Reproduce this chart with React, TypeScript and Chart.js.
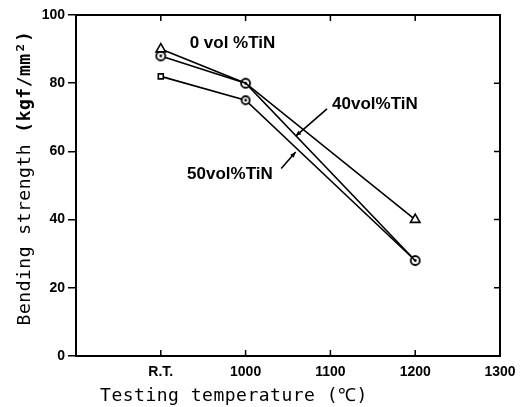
import React, { useEffect, useRef } from "react";
import { Chart, registerables } from "chart.js";

Chart.register(...registerables);

// Test temperatures; room temperature sits one step left of 1000 on the axis.
const temperatures = [900, 1000, 1200];
const tickLabels: Record<number, string> = {
  900: "R.T.",
  1000: "1000",
  1100: "1100",
  1200: "1200",
  1300: "1300",
};

// Bending strength (kgf/mm²) for each TiN content
const tin0 = [90, 80, 40];
const tin40 = [88, 80, 28];
const tin50 = [82, 75, 28];

const labelTexts = ["0 vol %TiN", "40vol%TiN", "50vol%TiN"];

const FONT_LABEL = "bold 17px 'Liberation Sans', Arial, sans-serif";
const FONT_TITLE = "18px 'DejaVu Sans Mono', monospace";
const FONT_TITLE_BOLD = "bold 18px 'DejaVu Sans Mono', monospace";

function ringMarker(r: number): HTMLCanvasElement {
  const size = Math.ceil(r * 2 + 4);
  const c = document.createElement("canvas");
  c.width = size;
  c.height = size;
  const g = c.getContext("2d")!;
  const m = size / 2;
  g.beginPath();
  g.arc(m, m, r, 0, Math.PI * 2);
  g.fillStyle = "#fff";
  g.fill();
  g.lineWidth = 1.8;
  g.strokeStyle = "#000";
  g.stroke();
  g.beginPath();
  g.arc(m, m, 1.4, 0, Math.PI * 2);
  g.fillStyle = "#000";
  g.fill();
  return c;
}

const framePlugin = {
  id: "frame",
  afterDraw(chart: any) {
    const { ctx, chartArea: a, scales } = chart;
    const xs = scales.x;
    const ys = scales.y;
    ctx.save();
    ctx.strokeStyle = "#000";
    ctx.lineWidth = 2;
    ctx.strokeRect(a.left, a.top, a.right - a.left, a.bottom - a.top);

    // inward ticks on bottom, top and right edges
    ctx.lineWidth = 1.5;
    ctx.beginPath();
    [900, 1000, 1100, 1200].forEach((v) => {
      const px = xs.getPixelForValue(v);
      ctx.moveTo(px, a.bottom);
      ctx.lineTo(px, a.bottom - 6);
      ctx.moveTo(px, a.top);
      ctx.lineTo(px, a.top + 6);
    });
    [20, 40, 60, 80].forEach((v) => {
      const py = ys.getPixelForValue(v);
      ctx.moveTo(a.right, py);
      ctx.lineTo(a.right - 6, py);
    });
    ctx.stroke();

    // series labels with pointers
    ctx.fillStyle = "#000";
    ctx.font = FONT_LABEL;
    ctx.textBaseline = "middle";
    ctx.textAlign = "left";
    const P = (x: number, y: number) => [xs.getPixelForValue(x), ys.getPixelForValue(y)];
    const [l0x, l0y] = P(1134 - 200, 91.6);
    ctx.fillText(labelTexts[0], l0x, l0y);
    const [l40x, l40y] = P(1102, 73.8);
    ctx.fillText(labelTexts[1], l40x, l40y);
    const [l50x, l50y] = P(931, 53.2);
    ctx.fillText(labelTexts[2], l50x, l50y);

    ctx.lineWidth = 1.6;
    const arrow = (x1: number, y1: number, x2: number, y2: number) => {
      const [ax, ay] = P(x1, y1);
      const [bx, by] = P(x2, y2);
      ctx.beginPath();
      ctx.moveTo(ax, ay);
      ctx.lineTo(bx, by);
      ctx.stroke();
      const ang = Math.atan2(by - ay, bx - ax);
      ctx.beginPath();
      ctx.moveTo(bx, by);
      ctx.lineTo(bx - 6 * Math.cos(ang - 0.4), by - 6 * Math.sin(ang - 0.4));
      ctx.lineTo(bx - 6 * Math.cos(ang + 0.4), by - 6 * Math.sin(ang + 0.4));
      ctx.closePath();
      ctx.fill();
    };
    arrow(1096, 72.5, 1059, 64.5);
    arrow(1042, 55.0, 1059, 59.8);

    // axis titles
    ctx.font = FONT_TITLE;
    ctx.textAlign = "center";
    (ctx as any).letterSpacing = "0.5px";
    ctx.fillText("Testing temperature (℃)", 234, 396);

    // vertical title: plain words followed by bold units
    const part1 = "Bending strength ";
    const part2 = "(kgf/mm²)";
    ctx.font = FONT_TITLE;
    const w1 = ctx.measureText(part1).width;
    ctx.font = FONT_TITLE_BOLD;
    const w2 = ctx.measureText(part2).width;
    ctx.save();
    ctx.translate(25, 178);
    ctx.rotate(-Math.PI / 2);
    ctx.textAlign = "left";
    const start = -(w1 + w2) / 2;
    ctx.font = FONT_TITLE;
    ctx.fillText(part1, start, 0);
    ctx.font = FONT_TITLE_BOLD;
    ctx.fillText(part2, start + w1, 0);
    ctx.restore();
    ctx.restore();
  },
};

export default function App() {
  const ref = useRef<HTMLCanvasElement>(null);

  useEffect(() => {
    document.body.style.margin = "0";
    const ring = ringMarker(4.5);
    const ringSmall = ringMarker(4);
    const pts = (vals: number[]) => temperatures.map((t, i) => ({ x: t, y: vals[i] }));
    const base = {
      borderColor: "#000",
      backgroundColor: "#fff",
      pointBorderColor: "#000",
      pointBackgroundColor: "#fff",
      borderWidth: 1.6,
      pointBorderWidth: 1.6,
      tension: 0,
    };
    const chart = new Chart(ref.current!, {
      type: "line",
      data: {
        datasets: [
          { ...base, label: labelTexts[2], data: pts(tin50), pointStyle: ["rect", ringSmall, false] as any, pointRadius: [3.5, 4, 0] },
          { ...base, label: labelTexts[0], data: pts(tin0), pointStyle: ["triangle", false, "triangle"] as any, pointRadius: [5.5, 0, 5.5] },
          { ...base, label: labelTexts[1], data: pts(tin40), pointStyle: ring as any, pointRadius: 5 },
        ],
      },
      options: {
        animation: false,
        responsive: true,
        maintainAspectRatio: false,
        layout: { padding: { top: 15, right: 20, left: 0, bottom: 0 } },
        plugins: { legend: { display: false }, tooltip: { enabled: false } },
        scales: {
          x: {
            type: "linear",
            min: 800,
            max: 1300,
            afterFit: (s: any) => {
              s.height = 51;
              s.paddingLeft = 0;
              s.paddingRight = 0;
            },
            afterBuildTicks: (s: any) => {
              s.ticks = [800, 900, 1000, 1100, 1200, 1300].map((v) => ({ value: v }));
            },
            border: { display: true, color: "#000", width: 2 },
            grid: { display: true, drawOnChartArea: false, drawTicks: false, color: "rgba(0,0,0,0)" },
            ticks: {
              padding: 8,
              color: "#000",
              font: { family: "'Liberation Sans', Arial, sans-serif", size: 14, weight: "bold" },
              callback: (v: any) => tickLabels[v as number] ?? "",
              maxRotation: 0,
              autoSkip: false,
            },
          },
          y: {
            min: 0,
            max: 100,
            afterFit: (s: any) => {
              s.width = 76;
            },
            border: { display: true, color: "#000", width: 2 },
            grid: { display: true, drawOnChartArea: false, drawTicks: true, tickLength: 8, color: "#000", lineWidth: 1.5 },
            ticks: {
              stepSize: 20,
              padding: 3,
              color: "#000",
              font: { family: "'Liberation Sans', Arial, sans-serif", size: 14, weight: "bold" },
            },
          },
        },
      },
      plugins: [framePlugin],
    });
    return () => chart.destroy();
  }, []);

  return (
    <div style={{ position: "fixed", left: 0, top: 0, width: 520, height: 407, background: "#fff" }}>
      <canvas ref={ref} />
    </div>
  );
}
